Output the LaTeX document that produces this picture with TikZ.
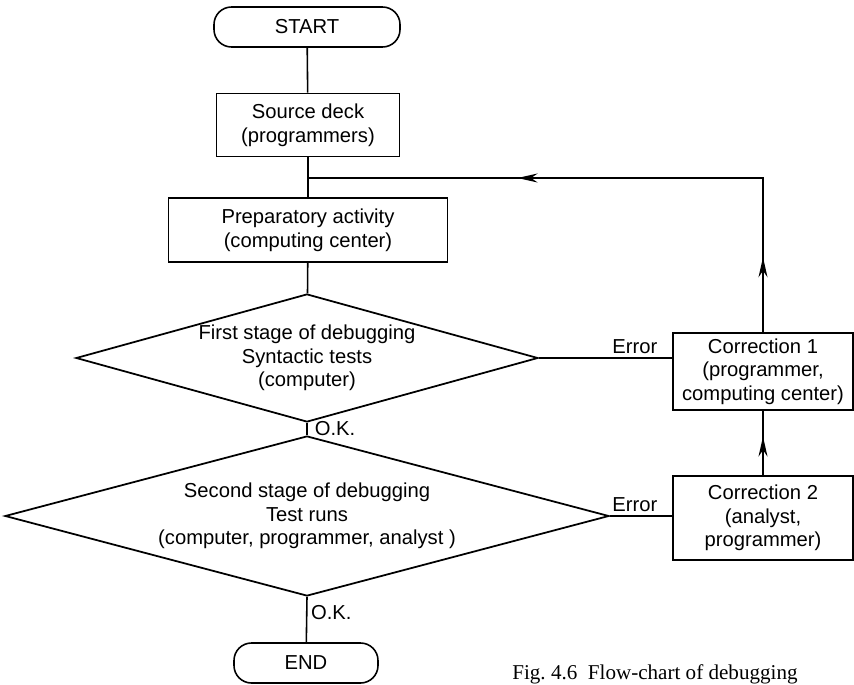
\documentclass[tikz,border=0pt]{standalone}
\usepackage{fontspec}
\setmainfont{Liberation Sans}
\newfontfamily\capfont{Liberation Serif}
\newcommand\flowfont{\fontsize{11.5}{13.5}\selectfont}
\usetikzlibrary{arrows.meta,shapes.geometric,decorations.markings}
\tikzset{
  box/.style={draw,line width=0.9pt,align=center,inner sep=2pt,font=\flowfont},
  term/.style={box,rounded corners=3.5mm,minimum height=8mm},
  cond/.style={draw,line width=1pt,diamond,inner sep=0pt},
  lbl/.style={font=\flowfont,inner sep=2pt,align=center},
  conn/.style={line width=0.9pt},
  flowtip/.tip={Stealth[length=4mm,width=1.8mm,inset=1.3mm]},
  midarr/.style={postaction={decorate,decoration={markings,
      mark=at position #1 with {\arrow{flowtip}}}}},
}

\begin{document}
\begin{tikzpicture}[x=0.2mm,y=-0.2mm]
    \useasboundingbox (0,0) rectangle (854,685);
    \node[term,minimum width=37.2mm] (start) at (307,27) {START};
    \node[box,minimum width=36.6mm,minimum height=12.6mm] (src) at (308,125)
      {Source deck\\(programmers)};
    \node[box,minimum width=55.8mm,minimum height=12.8mm] (prep) at (308,230)
      {Preparatory activity\\(computing center)};
    \node[cond,minimum width=92.4mm,minimum height=25.6mm,
      label={[lbl]center:{First stage of debugging\\Syntactic tests\\(computer)}}] (test1) at (307,358) {};
    \node[cond,minimum width=120.8mm,minimum height=32mm,
      label={[lbl]center:{Second stage of debugging\\Test runs\\(computer, programmer, analyst )}}] (test2) at (307,516) {};
    \node[term,minimum width=28.8mm] (stop) at (306,663) {END};
    \node[box,minimum width=36mm,minimum height=15.4mm] (fix1) at (763,371.5)
      {Correction 1\\(programmer,\\computing center)};
    \node[box,minimum width=36mm,minimum height=16.8mm] (fix2) at (763,518)
      {Correction 2\\(analyst,\\programmer)};
    \node[anchor=base west,inner sep=0pt,font=\capfont\fontsize{12}{14}\selectfont] (cap) at (512,679)
      {Fig.~4.6\ \ Flow-chart of debugging};
    \coordinate (join) at (308,178);
    \draw[conn] (start) -- (src);
    \draw[conn] (src) -- (prep);
    \draw[conn] (prep) -- (test1);
    \draw[conn] (test1.south) -- node[lbl,right,xshift=2pt] {O.K.} (test2.north);
    \draw[conn] (test2.south) -- node[lbl,right,pos=0.35] {O.K.} (stop);
    \draw[conn] (test1.east) -- node[lbl,above,pos=0.72] {Error} (test1.east -| fix1.west);
    \draw[conn] (test2.east) -- node[lbl,above,pos=0.4] {Error} (test2.east -| fix2.west);
    \draw[conn,midarr=0.6] (fix2) -- (fix1);
    \draw[conn,midarr=0.123,midarr=0.656] (fix1.north) |- (join);
  \end{tikzpicture}
\end{document}
